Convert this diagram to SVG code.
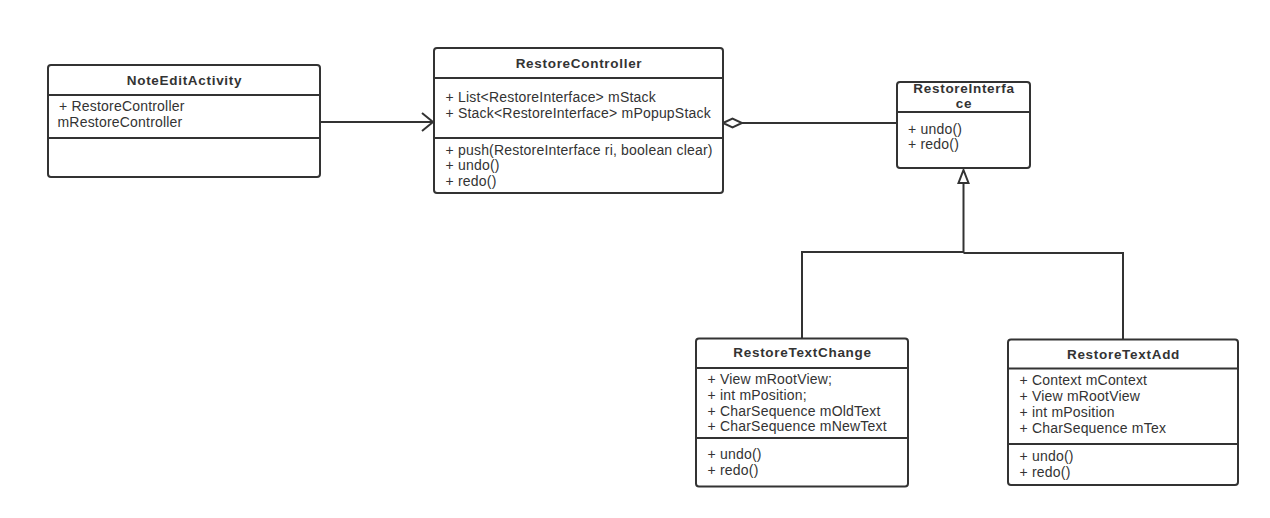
<svg xmlns="http://www.w3.org/2000/svg" width="1270" height="518" viewBox="0 0 1270 518">
<style>
.box{fill:#fff;stroke:#333;stroke-width:2}
.div{stroke:#333;stroke-width:2}
.t{font-family:"Liberation Sans",Arial,sans-serif;font-size:13.5px;font-weight:bold;fill:#333;letter-spacing:0.7px;text-anchor:middle}
.a{font-family:"Liberation Sans",Arial,sans-serif;font-size:14px;fill:#333;letter-spacing:0.2px}
.c{fill:none;stroke:#333;stroke-width:2}
</style>
<rect width="1270" height="518" fill="#fff"/>
<g id="connectors">
<path class="c" d="M320,122 H432"/>
<path class="c" d="M422,113 L433,122 L422,131"/>
<path class="c" d="M742,123 H897"/>
<path d="M723,123 L732.5,118.5 L742,123 L732.5,127.5 Z" fill="#fff" stroke="#333" stroke-width="2"/>
<path class="c" d="M963.5,183 V253"/>
<path d="M963.5,170 L968.5,183 L958.5,183 Z" fill="#fff" stroke="#333" stroke-width="2"/>
<path class="c" d="M802,338 V252 H963.5"/>
<path class="c" d="M1123,339 V253 H963.5"/>
</g>
<g id="NoteEditActivity">
<rect class="box" x="48" y="65" width="272" height="112" rx="3"/>
<line class="div" x1="48" y1="95" x2="320" y2="95"/>
<line class="div" x1="48" y1="138" x2="320" y2="138"/>
<text class="t" x="184.5" y="85">NoteEditActivity</text>
<text class="a" x="59" y="111">+ RestoreController</text>
<text class="a" x="57.5" y="127">mRestoreController</text>
</g>
<g id="RestoreController">
<rect class="box" x="434" y="48" width="289" height="145" rx="3"/>
<line class="div" x1="434" y1="78" x2="723" y2="78"/>
<line class="div" x1="434" y1="138" x2="723" y2="138"/>
<text class="t" x="579" y="67.5">RestoreController</text>
<text class="a" x="445.5" y="102">+ List&lt;RestoreInterface&gt; mStack</text>
<text class="a" x="445.5" y="118">+ Stack&lt;RestoreInterface&gt; mPopupStack</text>
<text class="a" x="445.5" y="154.5">+ push(RestoreInterface ri, boolean clear)</text>
<text class="a" x="445.5" y="170">+ undo()</text>
<text class="a" x="445.5" y="186">+ redo()</text>
</g>
<g id="RestoreInterface">
<rect class="box" x="897" y="82" width="133" height="86" rx="3"/>
<line class="div" x1="897" y1="112" x2="1030" y2="112"/>
<text class="t" x="964" y="92.5">RestoreInterfa</text>
<text class="t" x="964" y="107.5">ce</text>
<text class="a" x="908" y="134">+ undo()</text>
<text class="a" x="908" y="149">+ redo()</text>
</g>
<g id="RestoreTextChange">
<rect class="box" x="696" y="338.5" width="212" height="148" rx="3"/>
<line class="div" x1="696" y1="368" x2="908" y2="368"/>
<line class="div" x1="696" y1="438" x2="908" y2="438"/>
<text class="t" x="802.5" y="357">RestoreTextChange</text>
<text class="a" x="707.5" y="383.5">+ View mRootView;</text>
<text class="a" x="707.5" y="399.5">+ int mPosition;</text>
<text class="a" x="707.5" y="415.5">+ CharSequence mOldText</text>
<text class="a" x="707.5" y="431">+ CharSequence mNewText</text>
<text class="a" x="707.5" y="459">+ undo()</text>
<text class="a" x="707.5" y="474.5">+ redo()</text>
</g>
<g id="RestoreTextAdd">
<rect class="box" x="1008" y="339.5" width="230" height="145.5" rx="3"/>
<line class="div" x1="1008" y1="368.5" x2="1238" y2="368.5"/>
<line class="div" x1="1008" y1="444" x2="1238" y2="444"/>
<text class="t" x="1123.5" y="358.5">RestoreTextAdd</text>
<text class="a" x="1019.5" y="385">+ Context mContext</text>
<text class="a" x="1019.5" y="401">+ View mRootView</text>
<text class="a" x="1019.5" y="417">+ int mPosition</text>
<text class="a" x="1019.5" y="433">+ CharSequence mTex</text>
<text class="a" x="1019.5" y="461">+ undo()</text>
<text class="a" x="1019.5" y="477">+ redo()</text>
</g>
</svg>
